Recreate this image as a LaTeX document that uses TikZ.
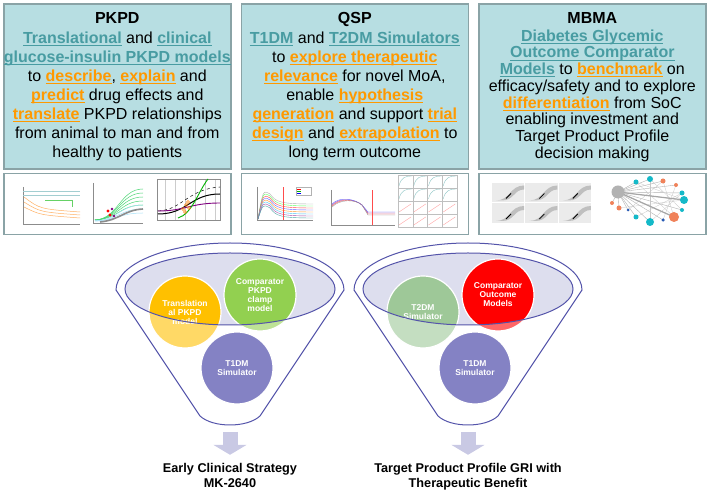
\documentclass[tikz,border=0pt]{standalone}
\usepackage{fontspec}
\setmainfont{Liberation Sans}
\usepackage{xcolor}
\usepackage{tikz}
\usetikzlibrary{positioning,arrows.meta}

\definecolor{panelfill}{RGB}{183,222,226}
\definecolor{panelline}{RGB}{138,163,166}
\definecolor{keyteal}{RGB}{72,156,162}
\definecolor{keyorange}{RGB}{255,153,0}
\definecolor{funnelblue}{RGB}{84,84,170}
\definecolor{lensfill}{RGB}{221,222,238}
\definecolor{pkpdorange}{RGB}{255,192,0}
\definecolor{clampgreen}{RGB}{146,208,80}
\definecolor{simgreen}{RGB}{158,200,152}
\definecolor{outcomered}{RGB}{255,0,0}
\definecolor{simpurple}{RGB}{132,130,196}
\definecolor{flowfill}{RGB}{201,201,228}
\definecolor{netteal}{RGB}{20,185,200}
\definecolor{netorange}{RGB}{240,130,90}
\definecolor{netblue}{RGB}{40,90,180}

% underlined key words
\newcommand\keyline[1]{\setbox0=\hbox{#1}\rlap{\rule[-2.8pt]{\wd0}{1.2pt}}\box0}
\newcommand\keyterm[1]{{\color{keyteal}\bfseries\keyline{#1}}}
\newcommand\keyaim[1]{{\color{keyorange}\bfseries\keyline{#1}}}

\begin{document}
\begin{tikzpicture}[x=1pt, y=1pt,
    panel/.style={draw=panelline, line width=1.6pt, fill=panelfill, minimum width=227pt, minimum height=165pt, inner sep=0pt, anchor=north west},
    strip/.style={draw=panelline, line width=1.6pt, fill=white, minimum width=227pt, minimum height=61pt, inner sep=0pt},
    blurb/.style={anchor=north, align=center, inner sep=0pt, font=\fontsize{16}{19}\selectfont},
    blob/.style={circle, draw=white, line width=1.2pt, minimum size=72pt, inner sep=0pt, align=center, text=white, font=\fontsize{8.5}{9}\selectfont\bfseries},
    funnel/.style={draw=funnelblue, line width=1pt},
    flow/.style={draw=flowfill, line width=15pt, -{Triangle[width=33pt, length=10pt]}},
    goal/.style={anchor=north, align=center, inner sep=0pt, font=\fontsize{12.7}{15}\selectfont\bfseries},
    axis/.style={draw=black!45, line width=0.3pt},
    trace/.style={line width=0.5pt},
]
    \useasboundingbox (0,0) rectangle (709,492);

    % top panels
    \node[panel] (pkpd) at (3,489) {};
    \node[panel] (qsp) at (240.5,489) {};
    \node[panel] (mbma) at (478,489) {};
    \node[strip, below=3pt of pkpd] (pkpdplots) {};
    \node[strip, below=3pt of qsp] (qspplots) {};
    \node[strip, below=3pt of mbma] (mbmaplots) {};

    \node[blurb] (pkpdtext) at ([yshift=-9pt]pkpd.north) {\textbf{PKPD}\\[1pt]
        \keyterm{Translational} and \keyterm{clinical}\\
        \keyterm{glucose-insulin PKPD models}\\
        to \keyaim{describe}, \keyaim{explain} and\\
        \keyaim{predict} drug effects and\\
        \keyaim{translate} PKPD relationships\\
        from animal to man and from\\
        healthy to patients};
    \node[blurb] (qsptext) at ([yshift=-9pt]qsp.north) {\textbf{QSP}\\[1pt]
        \keyterm{T1DM} and \keyterm{T2DM Simulators}\\
        to \keyaim{explore therapeutic}\\
        \keyaim{relevance} for novel MoA,\\
        enable \keyaim{hypothesis}\\
        \keyaim{generation} and support \keyaim{trial}\\
        \keyaim{design} and \keyaim{extrapolation} to\\
        long term outcome};
    \node[blurb, font=\fontsize{16}{16.7}\selectfont] (mbmatext) at ([yshift=-9pt]mbma.north) {\textbf{MBMA}\\[1.3pt]
        \keyterm{Diabetes Glycemic}\\
        \keyterm{Outcome Comparator}\\
        \keyterm{Models} to \keyaim{benchmark} on\\
        efficacy/safety and to explore\\
        \keyaim{differentiation} from SoC\\
        enabling investment and\\
        Target Product Profile\\
        decision making};

    % PKPD plots
    \draw[axis] (23,305) -- (23,268) -- (80,268);
    \draw[keyteal!50, line width=0.4pt] (23,301) -- (80,301) (23,297) -- (80,297);
    \foreach \a/\b in {295/280, 290/277, 285/274}
        \draw[trace, orange!60] (24,\a) .. controls (40,\b+3) .. (80,\b);
    \draw[trace, green!70!black!60] (45,292) -- (72,292) -- (72,285);
    \draw[axis] (93,309) -- (93,269) -- (143,269);
    \foreach \t in {303,299,295,291,287}
        \draw[trace, green!55!teal!70] (95,272) .. controls (118,273) and (120,\t) .. (143,\t);
    \foreach \t in {287,283,279}
        \draw[trace, cyan!35] (95,271) .. controls (118,272) and (120,\t) .. (143,\t);
    \draw[black!45, line width=1.6pt] (100,270) .. controls (120,272) and (124,282) .. (143,283);
    \fill[red] (108,281) circle (1.6) (110,277) circle (1.6);
    \fill[violet] (112,283) circle (1.3) (114,276) circle (1.3);
    \draw[black!20, line width=0.2pt] \foreach \x in {165,175,...,215} {(\x,272) -- (\x,313)};
    \draw[axis] (157,272) rectangle (220,313);
    \draw[black, line width=1pt] (158,278) .. controls (188,278) and (190,298) .. (220,298);
    \draw[trace, black, dashed] (158,281) .. controls (182,282) and (188,303) .. (220,305);
    \draw[violet, line width=0.9pt] (158,281) .. controls (185,281) and (190,289) .. (220,289);
    \draw[green!70!black, line width=0.9pt] (178,274) .. controls (192,278) and (198,300) .. (208,313);
    \foreach \p in {(183,283),(186,287),(189,284),(185,280),(188,290)}
        \draw[orange, line width=0.4pt] \p circle (1.5);

    % QSP plots
    \draw[axis] (257,305) -- (257,272) -- (313,272);
    \foreach \c/\p in {black!30/302, green!60/300, red!70/298, blue!60/296, orange!80/294, cyan!70/292, violet!70/290, teal!70/288}
        \draw[\c, line width=0.4pt] (258,273) .. controls (263,\p) .. (270,\p-4) .. controls (276,\p-12) and (280,\p-14) .. (313,\p-14);
    \draw[red!70, line width=0.4pt] (283,272) -- (283,305);
    \draw[black!30, line width=0.3pt, fill=white] (296,297) rectangle (311,305);
    \foreach \c/\y in {red/303, green!70!black/301, blue/299}
        \draw[\c, line width=0.4pt] (297,\y) -- (301,\y);
    \draw[axis] (331,302) -- (331,267) -- (395,267);
    \foreach \c/\d in {red!70/0, violet!70/1, blue!60/2, black!40/-1}
        \draw[\c, line width=0.4pt] (332,286+\d) .. controls (340,294+\d) and (355,293) .. (362,287) -- (368,278+\d) -- (395,278+\d);
    \draw[red!70, line width=0.4pt] (372,267) -- (372,302);
    \foreach \gx in {398,412.75,427.5,442.25} \foreach \gy in {265,278,291,304} {
        \draw[black!25, line width=0.2pt] (\gx,\gy) rectangle +(14.75,13);
    }
    \foreach \gx in {398,412.75,427.5,442.25} \foreach \gy in {265,278}
        \draw[pink!80!red, line width=0.3pt] (\gx+1,\gy+2) -- ++(12,8);
    \foreach \gx in {398,412.75,427.5,442.25} \foreach \gy in {291,304}
        \draw[teal!50, line width=0.3pt] (\gx+1,\gy+2) .. controls +(2,9) and +(-6,0) .. ++(13,10);

    % MBMA plots
    \foreach \gx in {492,525.4,558.8} \foreach \gy in {269,289.5} {
        \begin{scope}[shift={(\gx,\gy)}]
            \fill[black!8] (0,0) rectangle (32.4,19.5);
            \fill[black!25] (4,2) .. controls (18,2) and (18,17) .. (32,17) -- (32,13) .. controls (22,13) and (22,2) .. (10,2) -- cycle;
            \draw[black, line width=0.8pt] (14,4) -- (19,9);
        \end{scope}
    }
    \foreach \x/\y [count=\k] in {636/310, 650/313, 663/311, 676/307, 682/299, 684/292, 682/282, 674/275, 663/272, 650/270, 636/275, 628/282, 619/284, 612/289}
        \coordinate (n\k) at (\x,\y);
    \coordinate (hub) at (618,300);
    \foreach \k in {1,...,14}
        \draw[black!30, line width=0.4pt] (hub) -- (n\k);
    \foreach \a/\b in {1/8, 2/10, 3/12, 4/9, 5/11, 6/13, 2/7, 1/6, 3/8, 5/10}
        \draw[black!22, line width=0.3pt] (n\a) -- (n\b);
    \draw[black!35, line width=1.2pt] (hub) -- (n6) (hub) -- (n8);
    \foreach \k/\c/\r in {1/netteal/5, 2/netteal/6, 3/netorange/5, 4/netorange/4, 5/netteal/5, 6/netteal/8, 7/netteal/4, 8/netorange/10, 9/netblue/3.5, 10/netteal/8, 11/netteal/5, 12/netblue/3, 13/netorange/5, 14/netorange/4}
        \node[circle, fill=\c, minimum size=\r pt, inner sep=0pt] (dot\k) at (n\k) {};
    \node[circle, fill=black!30, minimum size=13pt, inner sep=0pt] (hubdot) at (hub) {};

    % left funnel
    \begin{scope}[shift={(230,0)}]
        \fill[lensfill] (0,203) ellipse[x radius=105, y radius=36];
        \node[blob, fill=pkpdorange] (transl) at (-45,180) {Translation\\al PKPD\\model};
        \node[blob, fill=clampgreen] (clamp) at (30,197) {Comparator\\PKPD\\clamp\\model};
        \fill[white, opacity=.4, even odd rule] (-120,130) rectangle (120,250) (0,203) ellipse[x radius=105, y radius=36];
        \draw[funnel] (0,203) ellipse[x radius=105, y radius=36];
        \draw[funnel] (-114,202) arc[start angle=180, end angle=0, x radius=114, y radius=47] -- (30,76) .. controls (17,64) and (-17,64) .. (-30,76) -- cycle;
        \node[blob, fill=simpurple] (tonedm) at (7,124) {T1DM\\Simulator};
        \coordinate (leftbase) at (0,66);
    \end{scope}

    % right funnel
    \begin{scope}[shift={(468,0)}]
        \fill[lensfill] (0,203) ellipse[x radius=105, y radius=36];
        \node[blob, fill=simgreen] (ttwodm) at (-45,180) {T2DM\\Simulator};
        \node[blob, fill=outcomered] (comparator) at (30,197) {Comparator\\Outcome\\Models};
        \fill[white, opacity=.4, even odd rule] (-120,130) rectangle (120,250) (0,203) ellipse[x radius=105, y radius=36];
        \draw[funnel] (0,203) ellipse[x radius=105, y radius=36];
        \draw[funnel] (-114,202) arc[start angle=180, end angle=0, x radius=114, y radius=47] -- (30,76) .. controls (17,64) and (-17,64) .. (-30,76) -- cycle;
        \node[blob, fill=simpurple] (tonedmb) at (7,124) {T1DM\\Simulator};
        \coordinate (rightbase) at (0,66);
    \end{scope}

    % outcomes
    \node[goal] (early) at (230,29.2) {Early Clinical Strategy\\MK-2640};
    \node[goal] (target) at (468,29.2) {Target Product Profile GRI with\\Therapeutic Benefit};
    \draw[flow, shorten <=6pt, shorten >=8pt] (leftbase) -- (early.north);
    \draw[flow, shorten <=6pt, shorten >=8pt] (rightbase) -- (target.north);
\end{tikzpicture}
\end{document}
